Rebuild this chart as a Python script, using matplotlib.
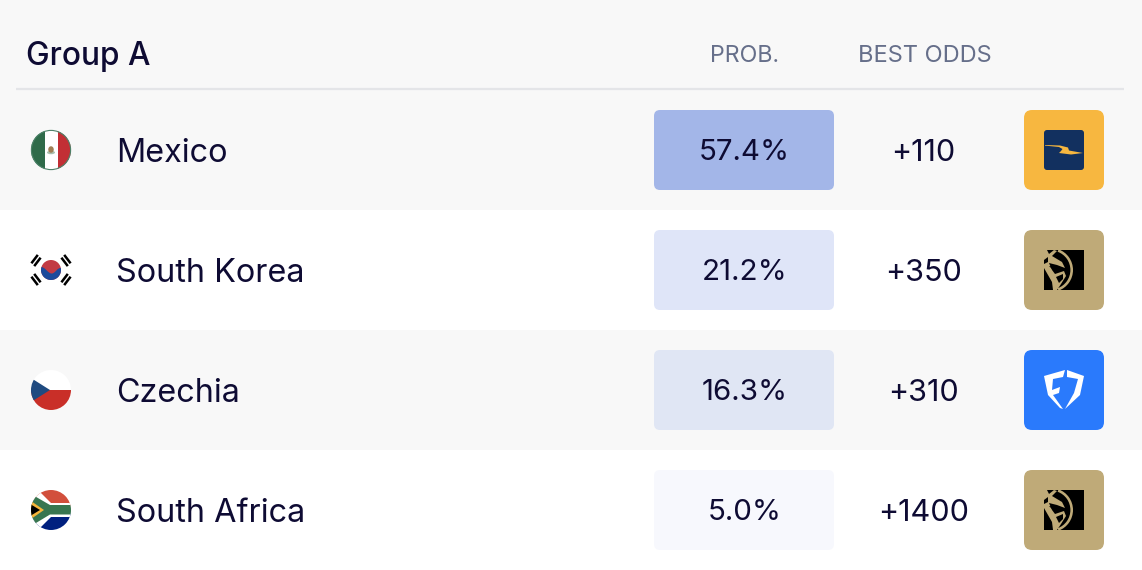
import matplotlib
matplotlib.use('Agg')
import matplotlib.pyplot as plt
from matplotlib.patches import Circle, Ellipse, FancyBboxPatch, Polygon, Rectangle, PathPatch, Wedge
from matplotlib.path import Path

teams = ['Mexico', 'South Korea', 'Czechia', 'South Africa']
probs = [57.4, 21.2, 16.3, 5.0]
odds = ['+110', '+350', '+310', '+1400']
books = ['bet', 'mgm', 'fd', 'mgm']
prob_colors = ['#a3b6e8', '#dfe5f8', '#e0e6f4', '#f7f8fd']
row_colors = ['#f8f8f8', '#ffffff', '#f8f8f8', '#ffffff']

INK = '#0e0b33'
plt.rcParams['font.family'] = ['Inter', 'DejaVu Sans']

fig = plt.figure(figsize=(11.42, 5.70), dpi=100, facecolor='white')
ax = fig.add_axes([0, 0, 1, 1])
ax.set_xlim(0, 1142)
ax.set_ylim(570, 0)
ax.axis('off')


def rounded(x, y, w, h, r, color, z=2):
    p = FancyBboxPatch((x + r, y + r), w - 2 * r, h - 2 * r, boxstyle='round,pad={},rounding_size={}'.format(r, r),
                       fc=color, ec='none', zorder=z)
    ax.add_patch(p)
    return p


def flag_mexico(cx, cy, clip):
    for x, w, c in [(cx - 20, 13.5, '#2f6b4a'), (cx - 6.5, 13, '#ffffff'), (cx + 6.5, 14, '#c22f35')]:
        ax.add_patch(Rectangle((x, cy - 20), w, 40, fc=c, ec='none', zorder=3, clip_path=clip))
    ax.add_patch(Ellipse((cx, cy + 2.5), 8, 3.5, fc='#a9c0b0', ec='none', zorder=4))
    ax.add_patch(Ellipse((cx, cy - 0.5), 5.5, 6.5, fc='#a07f55', ec='none', zorder=5))
    ax.add_patch(Circle((cx, cy), 19.6, fc='none', ec='#4d8269', lw=0.8, zorder=6))


def flag_korea(cx, cy):
    disc = Circle((cx, cy), 10, fc='#c23b45', ec='none', zorder=3)
    ax.add_patch(disc)
    wave = Path([(cx - 11, cy - 3), (cx - 6, cy - 4), (cx - 3, cy + 4), (cx + 1, cy + 3.5),
                 (cx + 5, cy + 3), (cx + 6, cy - 3), (cx + 11, cy - 2),
                 (cx + 11, cy + 11), (cx - 11, cy + 11), (cx - 11, cy - 3)],
                [Path.MOVETO, Path.CURVE4, Path.CURVE4, Path.CURVE4, Path.CURVE4, Path.CURVE4, Path.CURVE4,
                 Path.LINETO, Path.LINETO, Path.CLOSEPOLY])
    blue = PathPatch(wave, fc='#1c4a9c', ec='none', zorder=4)
    ax.add_patch(blue)
    blue.set_clip_path(disc)
    for sx, sy in [(-1, -1), (1, -1), (-1, 1), (1, 1)]:
        for off in (-2, 2):
            # short black bars of the trigrams
            mx = cx + sx * (15 + off * 0.7)
            my = cy + sy * (9.5 + off * 0.7)
            dx, dy = sx * 3.2, -sy * 4.2
            ax.plot([mx - dx, mx + dx], [my - dy, my + dy], color='black', lw=1.8, zorder=4, solid_capstyle='butt')


def flag_czech(cx, cy, clip):
    ax.add_patch(Rectangle((cx - 20, cy - 20), 40, 20, fc='#ffffff', ec='none', zorder=3, clip_path=clip))
    ax.add_patch(Rectangle((cx - 20, cy), 40, 20, fc='#c92f28', ec='none', zorder=3, clip_path=clip))
    ax.add_patch(Polygon([(cx - 20, cy - 12), (cx - 1, cy), (cx - 20, cy + 12)], fc='#1f4a80', ec='none', zorder=4, clip_path=clip))


def flag_safrica(cx, cy, clip):
    ax.add_patch(Rectangle((cx - 20, cy - 20), 40, 20, fc='#d24f3c', ec='none', zorder=3, clip_path=clip))
    ax.add_patch(Rectangle((cx - 20, cy), 40, 20, fc='#00207f', ec='none', zorder=3, clip_path=clip))
    ax.add_patch(Polygon([(cx - 20, cy - 22), (cx - 13, cy - 20), (cx + 0, cy - 7), (cx + 20, cy - 7), (cx + 20, cy + 7),
                          (cx + 0, cy + 7), (cx - 13, cy + 20), (cx - 20, cy + 22)], fc='#ffffff', ec='none', zorder=4, clip_path=clip))
    ax.add_patch(Polygon([(cx - 20, cy - 16), (cx - 1, cy - 5), (cx + 20, cy - 5), (cx + 20, cy + 4.5),
                          (cx - 1, cy + 4.5), (cx - 20, cy + 16)], fc='#387650', ec='none', zorder=5, clip_path=clip))
    ax.add_patch(Polygon([(cx - 20, cy - 9), (cx - 7, cy), (cx - 20, cy + 9)], fc='#f6b53b', ec='none', zorder=6, clip_path=clip))
    ax.add_patch(Polygon([(cx - 20, cy - 5.5), (cx - 11, cy), (cx - 20, cy + 5.5)], fc='#000000', ec='none', zorder=7, clip_path=clip))


def logo_bet(x, y):
    rounded(x, y, 80, 80, 8, '#f7b740')
    rounded(x + 20, y + 20, 40, 40, 3, '#12305f', 3)
    verts = [(x + 21, y + 35), (x + 36, y + 35.5), (x + 44, y + 37.5), (x + 45, y + 40.5), (x + 59, y + 43), (x + 47, y + 44.5),
             (x + 35, y + 43), (x + 37, y + 41), (x + 38.5, y + 39), (x + 35, y + 37), (x + 21, y + 35.6)]
    ax.add_patch(Polygon(verts, fc='#f7b740', ec='none', zorder=4))


def logo_mgm(x, y):
    rounded(x, y, 80, 80, 8, '#bfaa78')
    ax.add_patch(Rectangle((x + 20, y + 20), 40, 40, fc='#000000', ec='none', zorder=3))
    gold = '#bfaa78'
    # lion mane arc and head
    ax.add_patch(Wedge((x + 27, y + 40), 22, -70, 70, width=2.6, fc=gold, ec='none', zorder=4))
    ax.add_patch(Polygon([(x + 20, y + 20), (x + 23, y + 20), (x + 25, y + 24), (x + 30, y + 20), (x + 33, y + 21),
                          (x + 28, y + 26), (x + 38, y + 32), (x + 41, y + 38), (x + 33, y + 35), (x + 25, y + 33), (x + 28, y + 40),
                          (x + 31, y + 44), (x + 40, y + 41), (x + 42, y + 46), (x + 37, y + 54),
                          (x + 33, y + 60), (x + 29, y + 60), (x + 28, y + 52), (x + 24, y + 45), (x + 20, y + 38)],
                         fc=gold, ec='none', zorder=4))
    ax.add_patch(Polygon([(x + 20, y + 30), (x + 24, y + 27), (x + 24, y + 32), (x + 20, y + 34)], fc='#000000', ec='none', zorder=5))
    ax.add_patch(Polygon([(x + 25, y + 36), (x + 33, y + 37), (x + 28, y + 39)], fc='#000000', ec='none', zorder=5))
    ax.add_patch(Polygon([(x + 32, y + 47), (x + 39, y + 44), (x + 39, y + 49), (x + 35, y + 53)], fc='#000000', ec='none', zorder=5))


def logo_fd(x, y):
    rounded(x, y, 80, 80, 8, '#2a7afc')
    ax.add_patch(Polygon([(x + 20, y + 26), (x + 41, y + 20), (x + 39, y + 27), (x + 29, y + 29), (x + 28, y + 40),
                          (x + 36, y + 37), (x + 35, y + 43), (x + 29, y + 45), (x + 39, y + 59), (x + 36, y + 58),
                          (x + 24, y + 45)], fc='white', ec='none', zorder=4))
    ax.add_patch(Polygon([(x + 43, y + 20), (x + 60, y + 26), (x + 56, y + 45), (x + 41, y + 59), (x + 50, y + 43),
                          (x + 54, y + 29), (x + 43, y + 27)], fc='white', ec='none', zorder=4))


# rows, the header belongs to the first grey band
ax.add_patch(Rectangle((0, 0), 1142, 210, fc=row_colors[0], ec='none', zorder=0))
ax.add_patch(Rectangle((0, 210), 1142, 120, fc=row_colors[1], ec='none', zorder=0))
ax.add_patch(Rectangle((0, 330), 1142, 120, fc=row_colors[2], ec='none', zorder=0))
ax.add_patch(Rectangle((0, 450), 1142, 120, fc=row_colors[3], ec='none', zorder=0))
ax.plot([16, 1124], [89, 89], color='#e4e5e8', lw=1.6, zorder=1, solid_capstyle='butt')

ax.text(26.5, 57, 'Group A', fontsize=22.8, fontweight='medium', color=INK, va='center', ha='left')
ax.text(744, 56, 'PROB.', fontsize=16.7, color='#666f8a', va='center', ha='center')
ax.text(924.5, 56, 'BEST ODDS', fontsize=17, color='#666f8a', va='center', ha='center')

logo_fn = {'bet': logo_bet, 'mgm': logo_mgm, 'fd': logo_fd}

for i, team in enumerate(teams):
    cy = 150 + i * 120
    cx = 51
    clip = Circle((cx, cy), 20, transform=ax.transData)
    if team == 'Mexico':
        flag_mexico(cx, cy, clip)
    elif team == 'South Korea':
        flag_korea(cx, cy)
    elif team == 'Czechia':
        flag_czech(cx, cy, clip)
    else:
        flag_safrica(cx, cy, clip)
    ax.text(116, cy + 3.5, team, fontsize=23.3, color=INK, va='center', ha='left')
    rounded(654, cy - 40, 180, 80, 6, prob_colors[i])
    ax.text(744.5, cy + 3, '{:.1f}%'.format(probs[i]), fontsize=21.3, color=INK, va='center', ha='center', zorder=5)
    ax.text(923.5, cy + 3, odds[i], fontsize=22, color=INK, va='center', ha='center')
    logo_fn[books[i]](1024, cy - 40)

fig.savefig('out.png', dpi=100, facecolor='white')
